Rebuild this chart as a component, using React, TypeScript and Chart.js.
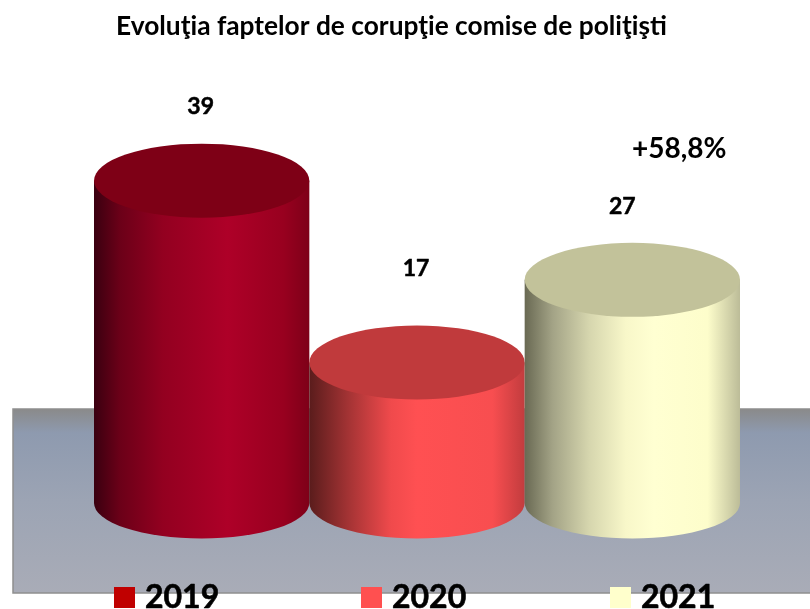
import React, { useEffect, useRef } from "react";
import { Chart, registerables } from "chart.js";

Chart.register(...registerables);

const titleText = "Evoluţia faptelor de corupţie comise de poliţişti";
const years = ["2019", "2020", "2021"];
const cases = [39, 17, 27];
const changeLabel = "+58,8%";

const swatchColors = ["#c00000", "#ff5050", "#ffffcc"];
const topColors = ["#7e0016", "#c03a3c", "#c2c29a"];
const bodyStops: [number, string][][] = [
  [[0, "#3a0010"], [0.12, "#6b0018"], [0.32, "#930020"], [0.62, "#ae0028"], [0.88, "#98001f"], [1, "#7e0018"]],
  [[0, "#5a1c1c"], [0.18, "#a33334"], [0.38, "#f04a4c"], [0.5, "#ff5052"], [0.85, "#f84e50"], [1, "#c23c3e"]],
  [[0, "#696953"], [0.13, "#a3a386"], [0.3, "#d6d6ae"], [0.47, "#f8f7c9"], [0.6, "#ffffd2"], [0.85, "#fdfdcb"], [1, "#bcbc98"]],
];
const labelLift = [74, 94, 73.5];
const labelShift = [-1, -1, -10];
const legendX = [114, 361, 610];

const FONT = "Lato";
const RY_TOP = 37;
const RY_BASE = 35.5;

function heavyText(ctx: CanvasRenderingContext2D, text: string, x: number, y: number, w: number) {
  ctx.lineWidth = w;
  ctx.strokeStyle = "#000";
  ctx.lineJoin = "round";
  ctx.strokeText(text, x, y);
  ctx.fillText(text, x, y);
}

const cylinders = {
  id: "cylinders",
  beforeDatasetsDraw(chart: any) {
    const { ctx } = chart;
    const g = ctx.createLinearGradient(0, 409, 0, 593);
    g.addColorStop(0, "#8a8a8a");
    g.addColorStop(0.13, "#8e9aaf");
    g.addColorStop(0.5, "#9ca4b4");
    g.addColorStop(1, "#a9acb7");
    ctx.save();
    ctx.fillStyle = g;
    ctx.fillRect(13, 409, 800, 184);
    ctx.strokeStyle = "#8f8f8f";
    ctx.lineWidth = 1.5;
    ctx.strokeRect(13, 409, 800, 184);
    ctx.restore();
  },
  afterDatasetsDraw(chart: any) {
    const { ctx } = chart;
    const bars = chart.getDatasetMeta(0).data;
    bars.forEach((bar: any, i: number) => {
      const cx = bar.x;
      const rx = bar.width / 2;
      const top = bar.y;
      const base = bar.base;
      ctx.save();
      const g = ctx.createLinearGradient(cx - rx, 0, cx + rx, 0);
      bodyStops[i].forEach(([p, c]) => g.addColorStop(p, c));
      ctx.fillStyle = g;
      ctx.beginPath();
      ctx.moveTo(cx - rx, top);
      ctx.lineTo(cx - rx, base);
      ctx.ellipse(cx, base, rx, RY_BASE, 0, Math.PI, 0, true);
      ctx.lineTo(cx + rx, top);
      ctx.closePath();
      ctx.fill();
      ctx.fillStyle = topColors[i];
      ctx.beginPath();
      ctx.ellipse(cx, top, rx, RY_TOP, 0, 0, Math.PI * 2);
      ctx.fill();
      ctx.fillStyle = "#000";
      ctx.font = `bold 23px ${FONT}`;
      ctx.textAlign = "center";
      ctx.textBaseline = "middle";
      heavyText(ctx, String(cases[i]), cx + labelShift[i], top - labelLift[i], 0.5);
      ctx.restore();
    });
    ctx.save();
    ctx.fillStyle = "#000";
    ctx.font = `bold 28px ${FONT}`;
    ctx.textAlign = "left";
    ctx.textBaseline = "middle";
    ctx.fillText(changeLabel, 632, 149);
    ctx.font = `bold 32px ${FONT}`;
    years.forEach((y, i) => {
      ctx.fillStyle = swatchColors[i];
      ctx.fillRect(legendX[i], 587, 21, 21);
      ctx.fillStyle = "#000";
      heavyText(ctx, y, legendX[i] + 31, 598, 0.6);
    });
    ctx.restore();
  },
};

export default function App() {
  const ref = useRef<HTMLCanvasElement>(null);
  useEffect(() => {
    const chart = new Chart(ref.current!, {
      type: "bar",
      data: {
        labels: years,
        datasets: [
          {
            data: cases,
            backgroundColor: "rgba(0,0,0,0)",
            barPercentage: 1,
            categoryPercentage: 1,
          },
        ],
      },
      options: {
        responsive: false,
        animation: false,
        layout: { padding: { left: 0, right: 27, top: 0, bottom: 106 } },
        plugins: {
          legend: { display: false },
          tooltip: { enabled: false },
          title: {
            display: true,
            text: titleText,
            color: "#000",
            font: { family: FONT, size: 26.3, weight: "bold", lineHeight: 1.2 },
            padding: { top: 11, bottom: 88.5 },
          },
        },
        scales: {
          x: { display: false },
          y: {
            min: 0,
            max: 45,
            grid: { display: false },
            border: { display: false },
            ticks: { display: false },
            afterFit: (s: any) => {
              s.width = 94;
            },
          },
          y2: {
            position: "right",
            grid: { display: false },
            border: { display: false },
            ticks: { display: false },
            afterFit: (s: any) => {
              s.width = 43;
            },
          },
        },
      },
      plugins: [cylinders],
    });
    return () => chart.destroy();
  }, []);
  return (
    <canvas
      ref={ref}
      width={810}
      height={609}
      style={{ position: "fixed", left: 0, top: 0, background: "#fff" }}
    />
  );
}
